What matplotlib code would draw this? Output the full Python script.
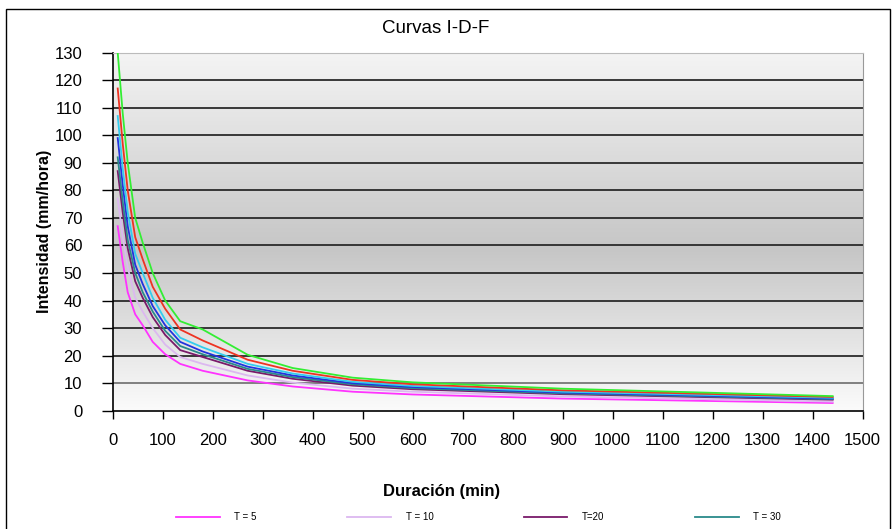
import numpy as np
import matplotlib
matplotlib.use('Agg')
from matplotlib import pyplot as plt
from matplotlib.colors import LinearSegmentedColormap
from matplotlib.patches import Rectangle

plt.rcParams['font.family'] = ['Liberation Sans', 'DejaVu Sans']

# duracion (min)
duracion = [10, 20, 30, 45, 60, 80, 105, 135, 180, 270, 360, 480, 600, 900, 1440]

# intensidades (mm/hora)
t5 = [67, 54, 43, 35, 31, 25, 20.5, 17, 14.5, 11, 8.8, 6.9, 5.9, 4.4, 2.8]
t10 = [77, 63, 52, 41, 36, 30, 24, 19.5, 17, 12.8, 10.2, 8.0, 6.9, 5.2, 3.3]
t20 = [87, 72, 59, 47, 41, 34, 27.5, 22, 19.5, 14.5, 11.6, 9.1, 7.8, 6.0, 4.0]
t30 = [92, 76, 62, 50, 43, 36, 29, 23.5, 20.5, 15.2, 12.2, 9.6, 8.2, 6.3, 4.2]
t50 = [99, 82, 67, 53, 46, 38, 31, 25, 21.5, 16, 12.8, 10, 8.6, 6.6, 4.4]
t100 = [107, 88, 72, 57, 50, 41, 33, 26.5, 23, 17, 13.5, 10.5, 9.0, 6.9, 4.7]
t200 = [117, 97, 80, 63, 55, 45, 37, 29.5, 25.5, 18.5, 14.5, 11.2, 9.6, 7.4, 5.0]
t500 = [130, 108, 90, 70, 61, 50, 40, 32.5, 29.5, 20.3, 15.5, 12, 10.3, 8, 5.3]

series = [
    ('T = 5', t5, '#ff33ff'),
    ('T = 10', t10, '#dcb8f0'),
    ('T=20', t20, '#7a1a6a'),
    ('T = 30', t30, '#2a8a8a'),
    ('T = 50', t50, '#2233dd'),
    ('T = 100', t100, '#33ccee'),
    ('T = 200', t200, '#ee3322'),
    ('T = 500', t500, '#33ee33'),
]

fig = plt.figure(figsize=(8.96, 5.29), dpi=100)
ax = fig.add_axes([0.1258, 0.2236, 0.837, 0.6768])

# fondo degradado
cmap = LinearSegmentedColormap.from_list('bg', [(0.0, '#fbfbfb'), (0.45, '#c6c6c6'), (1.0, '#f4f4f4')])
grad = np.linspace(0, 1, 256).reshape(-1, 1)
ax.imshow(grad, extent=[0, 1500, 0, 130], origin='lower', aspect='auto', cmap=cmap, zorder=0)

for y in range(10, 131, 10):
    c = '#bbbbbb' if y == 130 else ('#777777' if y == 10 else '#2a2a2a')
    ax.axhline(y, color=c, lw=1.3, zorder=1)

lines = []
for lab, vals, col in series:
    ln, = ax.plot(duracion, vals, color=col, lw=1.3, zorder=3)
    lines.append(ln)

ax.set_xlim(0, 1500)
ax.set_ylim(0, 130)
ax.set_xticks(range(0, 1501, 100))
ax.set_yticks(range(0, 131, 10))
ax.tick_params(axis='y', direction='out', length=8, width=1, pad=14, labelsize=12)
ax.tick_params(axis='x', direction='out', length=6, width=1, pad=10, labelsize=12)
for s in ['left', 'bottom']:
    ax.spines[s].set_color('black')
    ax.spines[s].set_linewidth(1.2)
ax.spines['right'].set_color('#999999')
ax.spines['top'].set_color('#bbbbbb')

fig.text(0.486, 0.947, 'Curvas I-D-F', fontsize=13.5, ha='center', va='center')
ax.set_ylabel('Intensidad (mm/hora)', fontsize=11.5, fontweight='bold', labelpad=2)
fig.text(0.493, 0.07, 'Duración (min)', fontsize=12, fontweight='bold', ha='center', va='center')

fig.legend(lines[:4], [s[0] for s in series[:4]], loc='center', bbox_to_anchor=(0.534, 0.022),
           ncol=4, frameon=False, fontsize=7, handlelength=4.5, columnspacing=9.3, handletextpad=1.5)

# borde del area del grafico
fig.patches.append(Rectangle((0.007, -0.1), 0.986, 1.083, transform=fig.transFigure,
                             fill=False, edgecolor='black', lw=1))

fig.savefig('out.png', dpi=100)
